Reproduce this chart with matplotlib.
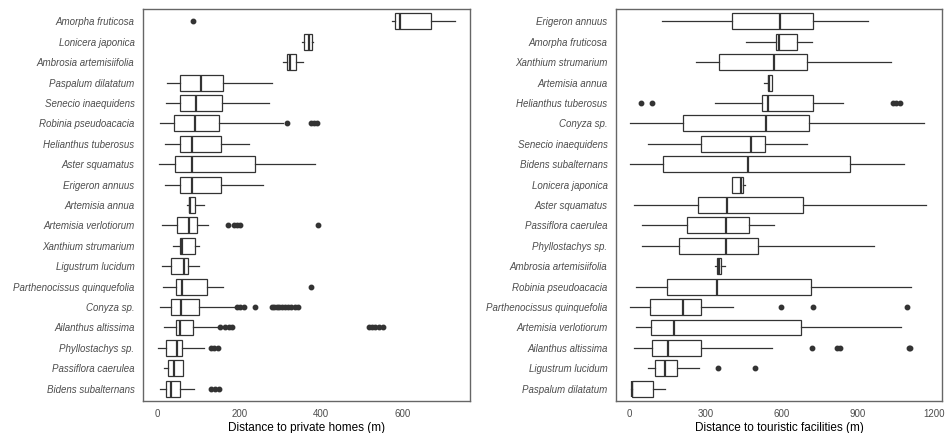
import matplotlib
matplotlib.use('Agg')
import matplotlib.pyplot as plt

plt.rcParams['font.family'] = ['Liberation Sans', 'DejaVu Sans']

# ---- panel 1: distance to private homes (top to bottom) ----
homes_species = [
    'Amorpha fruticosa', 'Lonicera japonica', 'Ambrosia artemisiifolia',
    'Paspalum dilatatum', 'Senecio inaequidens', 'Robinia pseudoacacia',
    'Helianthus tuberosus', 'Aster squamatus', 'Erigeron annuus',
    'Artemisia annua', 'Artemisia verlotiorum', 'Xanthium strumarium',
    'Ligustrum lucidum', 'Parthenocissus quinquefolia', 'Conyza sp.',
    'Ailanthus altissima', 'Phyllostachys sp.', 'Passiflora caerulea',
    'Bidens subalternans',
]
homes_wlo = [574, 353, 308, 23, 21, 5, 19, 3, 19, 72, 10, 39, 10, 13, 6, 16, 2, 16, 6]
homes_q1 = [582, 360, 316, 56, 54, 41, 54, 42, 54, 76, 47, 56, 34, 45, 34, 45, 20, 25, 20]
homes_med = [594, 372, 324, 106, 94, 91, 85, 85, 85, 80, 78, 61, 64, 60, 58, 56, 47, 40, 34]
homes_q3 = [669, 378, 339, 160, 159, 151, 156, 239, 155, 91, 97, 92, 74, 120, 101, 86, 61, 63, 56]
homes_whi = [728, 380, 356, 281, 272, 308, 223, 385, 259, 113, 124, 102, 102, 160, 187, 150, 114, 63, 90]
homes_out = [
    [88], [], [], [], [],
    [316, 376, 383, 390],
    [], [], [], [],
    [172, 188, 195, 203, 394],
    [], [], [377],
    [195, 203, 211, 238, 280, 286, 292, 298, 305, 312, 320, 328, 336, 344],
    [153, 166, 174, 182, 518, 526, 534, 543, 553],
    [131, 139, 147],
    [],
    [132, 140, 150],
]

# ---- panel 2: distance to touristic facilities (top to bottom) ----
tour_species = [
    'Erigeron annuus', 'Amorpha fruticosa', 'Xanthium strumarium',
    'Artemisia annua', 'Helianthus tuberosus', 'Conyza sp.',
    'Senecio inaequidens', 'Bidens subalternans', 'Lonicera japonica',
    'Aster squamatus', 'Passiflora caerulea', 'Phyllostachys sp.',
    'Ambrosia artemisiifolia', 'Robinia pseudoacacia',
    'Parthenocissus quinquefolia', 'Artemisia verlotiorum',
    'Ailanthus altissima', 'Ligustrum lucidum', 'Paspalum dilatatum',
]
tour_wlo = [131, 458, 264, 530, 339, 5, 75, 3, 406, 21, 49, 49, 337, 26, 4, 26, 21, 75, 8]
tour_q1 = [406, 578, 354, 546, 524, 213, 282, 134, 406, 269, 226, 196, 344, 150, 84, 87, 91, 102, 12]
tour_med = [595, 589, 568, 550, 546, 538, 479, 466, 441, 383, 381, 381, 352, 344, 211, 175, 154, 140, 12]
tour_q3 = [722, 662, 701, 562, 725, 709, 536, 870, 449, 684, 471, 508, 362, 714, 282, 675, 282, 189, 93]
tour_whi = [939, 719, 1031, 562, 840, 1161, 701, 1082, 457, 1168, 568, 962, 378, 1109, 407, 1069, 561, 276, 140]
tour_out = [
    [], [], [], [],
    [47, 92, 1037, 1050, 1066],
    [], [], [], [], [], [], [], [], [],
    [597, 725, 1092],
    [],
    [718, 817, 830, 1099, 1105],
    [348, 496],
    [],
]


def draw_panel(ax, species, wlo, q1, med, q3, whi, out, xlabel, xticks, xlim):
    n = len(species)
    stats = []
    for i in range(n):
        stats.append({'whislo': wlo[i], 'q1': q1[i], 'med': med[i],
                      'q3': q3[i], 'whishi': whi[i], 'fliers': out[i]})
    # first species at the top
    positions = list(range(n, 0, -1))
    ax.bxp(stats, positions=positions, vert=False, widths=0.78,
           showcaps=False, patch_artist=True,
           boxprops=dict(facecolor='white', edgecolor='#333333', linewidth=0.9),
           medianprops=dict(color='#333333', linewidth=1.6),
           whiskerprops=dict(color='#333333', linewidth=0.9),
           flierprops=dict(marker='o', markerfacecolor='#333333',
                           markeredgecolor='#333333', markersize=3.2))
    ax.set_yticks(positions)
    ax.set_yticklabels(species, style='italic', color='#4d4d4d', fontsize=7)
    ax.set_ylim(0.4, n + 0.6)
    ax.set_xlim(*xlim)
    ax.set_xticks(xticks)
    ax.set_xticklabels([str(t) for t in xticks], color='#4d4d4d', fontsize=7)
    ax.tick_params(length=0, pad=6)
    ax.set_xlabel(xlabel, fontsize=8.5, labelpad=2)
    for s in ax.spines.values():
        s.set_color('#666666')
        s.set_linewidth(1.0)


fig = plt.figure(figsize=(9.46, 4.33), dpi=100)
ax1 = fig.add_axes([0.151, 0.074, 0.346, 0.905])
ax2 = fig.add_axes([0.651, 0.074, 0.345, 0.905])

draw_panel(ax1, homes_species, homes_wlo, homes_q1, homes_med, homes_q3,
           homes_whi, homes_out, 'Distance to private homes (m)',
           [0, 200, 400, 600], (-36, 766))
draw_panel(ax2, tour_species, tour_wlo, tour_q1, tour_med, tour_q3,
           tour_whi, tour_out, 'Distance to touristic facilities (m)',
           [0, 300, 600, 900, 1200], (-52, 1231))

plt.savefig('out.png', dpi=100)
